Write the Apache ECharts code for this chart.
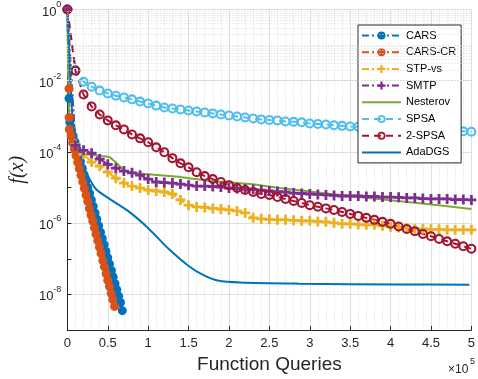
<!DOCTYPE html>
<html>
<head>
<meta charset="utf-8">
<script src="https://cdn.jsdelivr.net/npm/echarts@6/dist/echarts.min.js"></script>
<style>
html, body { margin: 0; padding: 0; background: #fff; }
#chart { width: 478px; height: 379px; }
</style>
</head>
<body>
<div id="chart"></div>
<script>
// queries in units of 1e5 (shared x for the marker series)
var queries = [0, 0.1, 0.2, 0.3, 0.4, 0.5, 0.6, 0.7, 0.8, 0.9,
    1.0, 1.1, 1.2, 1.3, 1.4, 1.5, 1.6, 1.7, 1.8, 1.9,
    2.0, 2.1, 2.2, 2.3, 2.4, 2.5, 2.6, 2.7, 2.8, 2.9,
    3.0, 3.1, 3.2, 3.3, 3.4, 3.5, 3.6, 3.7, 3.8, 3.9,
    4.0, 4.1, 4.2, 4.3, 4.4, 4.5, 4.6, 4.7, 4.8, 4.9,
    5.0];

var spsa = [1, 2.0e-2, 9.4e-3, 6.8e-3, 5.3e-3, 4.4e-3, 3.8e-3, 3.4e-3, 3.0e-3, 2.6e-3,
    2.3e-3, 2.0e-3, 1.77e-3, 1.66e-3, 1.56e-3, 1.46e-3, 1.37e-3, 1.29e-3, 1.21e-3, 1.13e-3,
    1.06e-3, 9.9e-4, 9.3e-4, 8.7e-4, 8.2e-4, 7.9e-4, 7.7e-4, 7.2e-4, 7.0e-4, 6.8e-4,
    6.3e-4, 6.1e-4, 5.9e-4, 5.6e-4, 5.4e-4, 5.2e-4, 5.1e-4, 4.9e-4, 4.7e-4, 4.6e-4,
    4.5e-4, 4.4e-4, 4.3e-4, 4.2e-4, 4.15e-4, 4.0e-4, 3.97e-4, 3.9e-4, 3.85e-4, 3.8e-4,
    3.7e-4];

var spsa2 = [1, 1.91e-2, 4.1e-3, 1.89e-3, 1.13e-3, 7.7e-4, 5.6e-4, 4.3e-4, 3.1e-4, 2.41e-4,
    1.87e-4, 1.35e-4, 9.8e-5, 6.7e-5, 4.8e-5, 3.7e-5, 2.7e-5, 2.1e-5, 1.73e-5, 1.43e-5,
    1.17e-5, 9.7e-6, 8.5e-6, 7.5e-6, 6.6e-6, 6.2e-6, 5.4e-6, 4.8e-6, 4.2e-6, 3.7e-6,
    3.2e-6, 2.9e-6, 2.6e-6, 2.35e-6, 2.07e-6, 1.82e-6, 1.6e-6, 1.41e-6, 1.24e-6, 1.09e-6,
    9.6e-7, 8.1e-7, 6.9e-7, 5.9e-7, 5.0e-7, 4.3e-7, 3.6e-7, 3.1e-7, 2.64e-7, 2.25e-7,
    1.91e-7];

var stpVs = [1, 1.64e-4, 8.6e-5, 5.2e-5, 4.0e-5, 2.7e-5, 1.84e-5, 1.34e-5, 1.1e-5, 9.7e-6,
    8.5e-6, 8.0e-6, 7.5e-6, 6.6e-6, 4.5e-6, 3.2e-6, 2.85e-6, 2.76e-6, 2.6e-6, 2.5e-6,
    2.35e-6, 2.2e-6, 1.94e-6, 1.41e-6, 1.32e-6, 1.28e-6, 1.24e-6, 1.24e-6, 1.2e-6, 1.16e-6,
    1.16e-6, 1.12e-6, 1.09e-6, 1.02e-6, 9.6e-7, 9.6e-7, 9.3e-7, 9.0e-7, 9.0e-7, 8.4e-7,
    7.9e-7, 7.6e-7, 7.4e-7, 6.9e-7, 6.9e-7, 6.7e-7, 6.7e-7, 6.5e-7, 6.5e-7, 6.5e-7,
    6.5e-7];

var smtp = [1, 1.54e-4, 1.11e-4, 9.2e-5, 6.3e-5, 4.5e-5, 3.5e-5, 2.9e-5, 2.6e-5, 2.23e-5,
    1.73e-5, 1.43e-5, 1.38e-5, 1.34e-5, 1.25e-5, 1.17e-5, 1.1e-5, 1.1e-5, 1.07e-5, 1.03e-5,
    9.7e-6, 9.4e-6, 9.1e-6, 8.8e-6, 8.5e-6, 8.0e-6, 7.7e-6, 7.5e-6, 7.0e-6, 6.8e-6,
    6.6e-6, 6.4e-6, 6.2e-6, 6.0e-6, 5.8e-6, 5.8e-6, 5.8e-6, 5.6e-6, 5.6e-6, 5.4e-6,
    5.4e-6, 5.3e-6, 5.1e-6, 5.1e-6, 4.9e-6, 4.8e-6, 4.8e-6, 4.8e-6, 4.6e-6, 4.6e-6,
    4.5e-6];

var carsX = [0, 0.02, 0.03, 0.050, 0.072, 0.095, 0.117, 0.140, 0.162, 0.185, 0.207, 0.230,
    0.252, 0.275, 0.297, 0.320, 0.342, 0.365, 0.387, 0.410, 0.432, 0.455, 0.477,
    0.500, 0.522, 0.545, 0.567, 0.590, 0.612, 0.635, 0.657, 0.680];
var carsY = [1, 3.2e-3, 6.8e-4, 4.3e-4, 2.8e-4, 1.9e-4, 1.2e-4, 8.1e-5, 5.4e-5, 3.5e-5, 2.3e-5, 1.55e-5,
    1.0e-5, 6.8e-6, 4.5e-6, 3.0e-6, 1.95e-6, 1.3e-6, 8.5e-7, 5.6e-7, 3.7e-7, 2.5e-7, 1.6e-7,
    1.07e-7, 7.1e-8, 4.7e-8, 3.1e-8, 2.0e-8, 1.35e-8, 8.9e-9, 5.9e-9, 3.5e-9];

var carsCrX = [0, 0.02, 0.022, 0.024, 0.045, 0.065, 0.086, 0.107, 0.128, 0.148, 0.169, 0.190,
    0.210, 0.231, 0.252, 0.272, 0.293, 0.314, 0.335, 0.355, 0.376, 0.397, 0.417,
    0.438, 0.459, 0.480, 0.500, 0.521, 0.542, 0.562, 0.584];
var carsCrY = [1, 6.0e-3, 9.3e-4, 4.3e-4, 2.8e-4, 1.8e-4, 1.2e-4, 7.9e-5, 5.1e-5, 3.4e-5, 2.2e-5, 1.45e-5,
    9.5e-6, 6.2e-6, 4.1e-6, 2.6e-6, 1.7e-6, 1.15e-6, 7.4e-7, 4.9e-7, 3.2e-7, 2.1e-7, 1.4e-7,
    8.9e-8, 5.9e-8, 3.8e-8, 2.5e-8, 1.66e-8, 1.07e-8, 7.1e-9, 4.6e-9];

var nesterovX = [0, 0.02, 0.049, 0.109, 0.255, 0.438, 0.523, 0.596, 0.718, 0.961,
    1.411, 1.776, 2.263, 2.628, 3.479, 3.844, 4.331, 5.0];
var nesterovY = [1, 1.0e-3, 2.26e-4, 1.05e-4, 8.6e-5, 7.6e-5, 7.1e-5, 5.2e-5, 2.9e-5, 2.4e-5,
    1.96e-5, 1.52e-5, 1.25e-5, 9.7e-6, 5.8e-6, 4.8e-6, 3.7e-6, 2.5e-6];

var adaX = [0, 0.049, 0.085, 0.134, 0.231, 0.353, 0.523, 0.766, 1.01, 1.253,
    1.496, 1.691, 1.861, 2.141, 2.871, 4.088, 4.976];
var adaY = [1, 3.0e-3, 2.26e-4, 8.6e-5, 2.7e-5, 9.1e-6, 4.8e-6, 2.07e-6, 6.9e-7, 1.9e-7,
    6.4e-8, 3.4e-8, 2.44e-8, 2.15e-8, 2.0e-8, 1.9e-8, 1.88e-8];

var names = ['CARS', 'CARS-CR', 'STP-vs', 'SMTP', 'Nesterov', 'SPSA', '2-SPSA', 'AdaDGS'];

function pairs(xs, ys) {
    return xs.map(function (x, i) { return [x, ys[i]]; });
}

var ring = 'path://M10,0 A10,10 0 1,1 -10,0 A10,10 0 1,1 10,0 Z M5.8,0 A5.8,5.8 0 1,0 -5.8,0 A5.8,5.8 0 1,0 5.8,0 Z';
var plus = 'path://M-1.4,-5 L1.4,-5 L1.4,-1.4 L5,-1.4 L5,1.4 L1.4,1.4 L1.4,5 L-1.4,5 L-1.4,1.4 L-5,1.4 L-5,-1.4 L-1.4,-1.4 Z';
var dashDot = [7, 3, 2, 3];

// dotted minor grid for the log axis (2..9 in each decade, plus odd decades)
var minorLines = [];
for (var e = -9; e < 0; e++) {
    for (var m = 2; m <= 9; m++) minorLines.push({ yAxis: m * Math.pow(10, e) });
    if (e % 2 !== 0 && e > -9) minorLines.push({ yAxis: Math.pow(10, e) });
}

// plain lines in the legend for the series without markers
var legendData = names.map(function (n) {
    if (n === 'Nesterov' || n === 'AdaDGS') return { name: n, itemStyle: { opacity: 0 } };
    return { name: n };
});

var myChart = echarts.init(document.getElementById('chart'));
var font = 'Liberation Sans, Arial, Helvetica, sans-serif';

var option = {
    animation: false,
    textStyle: { fontFamily: font },
    grid: { left: 64, right: 3, top: 9.5, bottom: 47 },
    legend: {
        data: legendData,
        orient: 'vertical',
        left: 358,
        top: 25,
        itemWidth: 39,
        itemHeight: 10,
        itemGap: 5.7,
        padding: [5, 5, 5, 3],
        backgroundColor: '#fff',
        borderColor: '#262626',
        borderWidth: 1,
        borderRadius: 0,
        textStyle: { fontSize: 11, color: '#000', fontFamily: font }
    },
    xAxis: {
        type: 'value',
        min: 0,
        max: 5,
        interval: 0.5,
        name: 'Function Queries',
        nameLocation: 'middle',
        nameGap: 25,
        nameTextStyle: { fontSize: 19, color: '#262626' },
        axisLine: { onZero: false, lineStyle: { color: '#262626', width: 1 } },
        axisTick: { inside: true, length: 4, lineStyle: { color: '#262626' } },
        axisLabel: { fontSize: 13, color: '#262626', margin: 7 },
        splitLine: { lineStyle: { color: '#dedede', width: 1 } },
        minorTick: { show: false, splitNumber: 5 },
        minorSplitLine: { show: true, lineStyle: { color: '#d9d9d9', type: [1, 2], width: 1 } }
    },
    yAxis: {
        type: 'log',
        logBase: 10,
        min: 1e-9,
        max: 1,
        name: 'f(x)',
        nameLocation: 'middle',
        nameGap: 30,
        nameTextStyle: { fontSize: 20, fontStyle: 'italic', fontFamily: 'Liberation Serif, DejaVu Serif, serif', color: '#262626' },
        axisLine: { lineStyle: { color: '#262626', width: 1 } },
        axisTick: { inside: true, length: 4, lineStyle: { color: '#262626' } },
        axisLabel: {
            margin: 6,
            formatter: function (v) {
                var p = Math.round(Math.log10(v));
                if (p % 2 !== 0) return '';
                return '{b|10}{s|' + p + '}';
            },
            rich: {
                b: { fontSize: 13, color: '#262626', verticalAlign: 'bottom', lineHeight: 18 },
                s: { fontSize: 9, color: '#262626', verticalAlign: 'top', lineHeight: 18 }
            }
        },
        splitLine: { lineStyle: { color: ['rgba(0,0,0,0)', '#dedede'], width: 1 } }
    },
    graphic: [
        { type: 'text', left: 448, top: 364, style: { text: '\u00d710', fontSize: 12, fill: '#262626', fontFamily: font } },
        { type: 'text', left: 470, top: 357, style: { text: '5', fontSize: 9, fill: '#262626', fontFamily: font } }
    ],
    series: [
        {
            name: 'grid', type: 'line', data: [], z: 1, silent: true,
            markLine: {
                silent: true, symbol: ['none', 'none'], label: { show: false },
                lineStyle: { color: '#d9d9d9', type: [1, 2], width: 1 },
                data: minorLines
            }
        },
        {
            name: 'CARS', type: 'line', data: pairs(carsX, carsY),
            symbol: 'circle', symbolSize: 9,
            itemStyle: { color: '#0072BD' },
            lineStyle: { color: '#0072BD', width: 2, type: dashDot }
        },
        {
            name: 'CARS-CR', type: 'line', data: pairs(carsCrX, carsCrY),
            symbol: 'circle', symbolSize: 9,
            itemStyle: { color: '#D95319' },
            lineStyle: { color: '#D95319', width: 2, type: dashDot }
        },
        {
            name: 'STP-vs', type: 'line', data: pairs(queries, stpVs),
            symbol: plus, symbolSize: 10,
            itemStyle: { color: '#EDB120' },
            lineStyle: { color: '#EDB120', width: 2, type: dashDot }
        },
        {
            name: 'SMTP', type: 'line', data: pairs(queries, smtp),
            symbol: plus, symbolSize: 10,
            itemStyle: { color: '#7E2F8E' },
            lineStyle: { color: '#7E2F8E', width: 2, type: dashDot }
        },
        {
            name: 'Nesterov', type: 'line', data: pairs(nesterovX, nesterovY),
            symbol: 'none', smooth: 0.2,
            itemStyle: { color: '#77AC30' },
            lineStyle: { color: '#77AC30', width: 2 }
        },
        {
            name: 'SPSA', type: 'line', data: pairs(queries, spsa),
            symbol: ring, symbolSize: 10,
            itemStyle: { color: '#4DBEEE' },
            lineStyle: { color: '#4DBEEE', width: 2, type: [7, 5] }
        },
        {
            name: '2-SPSA', type: 'line', data: pairs(queries, spsa2),
            symbol: ring, symbolSize: 10,
            itemStyle: { color: '#A2142F' },
            lineStyle: { color: '#A2142F', width: 2, type: [7, 5] }
        },
        {
            name: 'AdaDGS', type: 'line', data: pairs(adaX, adaY),
            symbol: 'none', smooth: 0.3,
            itemStyle: { color: '#0072BD' },
            lineStyle: { color: '#0072BD', width: 2 }
        }
    ]
};
myChart.setOption(option);
</script>
</body>
</html>
